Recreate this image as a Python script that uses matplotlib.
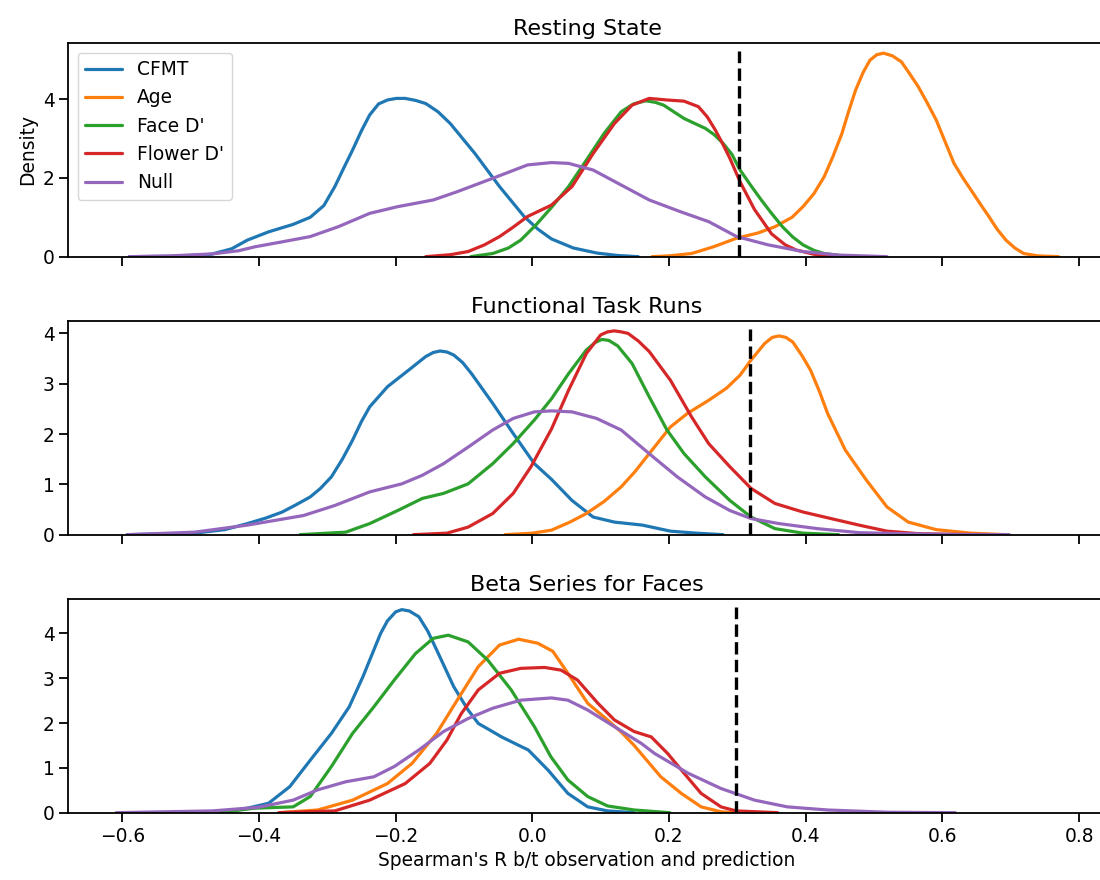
import numpy as np
import matplotlib.pyplot as plt

# ---- values (x = Spearman's R, y = density) ----

titles = ["Resting State", "Functional Task Runs", "Beta Series for Faces"]
labels = ["CFMT", "Age", "Face D'", "Flower D'", "Null"]
thresholds = [0.302, 0.318, 0.298]
ytops = [5.42, 4.24, 4.76]

# Resting State
rs_cfmt_x = [-0.59, -0.52, -0.47, -0.44, -0.417, -0.386, -0.35, -0.325, -0.305, -0.289, -0.276, -0.263,
             -0.25, -0.238, -0.225, -0.212, -0.199, -0.186, -0.171, -0.156, -0.138, -0.12, -0.102, -0.084,
             -0.066, -0.048, -0.03, -0.012, 0.008, 0.028, 0.06, 0.095, 0.125, 0.155]
rs_cfmt_y = [0.0, 0.01, 0.06, 0.2, 0.42, 0.63, 0.82, 1.0, 1.3, 1.78, 2.25, 2.71,
             3.2, 3.6, 3.88, 3.98, 4.02, 4.02, 3.97, 3.89, 3.68, 3.38, 3.0, 2.62,
             2.2, 1.78, 1.4, 1.02, 0.7, 0.45, 0.22, 0.09, 0.03, 0.0]
rs_age_x = [0.175, 0.2, 0.233, 0.265, 0.299, 0.33, 0.355, 0.38, 0.396, 0.412, 0.427, 0.44, 0.453,
            0.463, 0.473, 0.484, 0.494, 0.504, 0.514, 0.527, 0.54, 0.552, 0.565, 0.578, 0.591,
            0.604, 0.617, 0.63, 0.642, 0.655, 0.668, 0.68, 0.693, 0.706, 0.719, 0.74, 0.77]
rs_age_y = [0.0, 0.02, 0.08, 0.25, 0.47, 0.6, 0.76, 1.0, 1.27, 1.6, 2.03, 2.55, 3.13,
            3.7, 4.23, 4.68, 4.99, 5.13, 5.17, 5.1, 4.95, 4.65, 4.31, 3.9, 3.47,
            2.92, 2.37, 2.0, 1.69, 1.35, 1.02, 0.7, 0.42, 0.22, 0.08, 0.02, 0.0]
rs_face_x = [-0.09, -0.058, -0.035, -0.017, 0.005, 0.028, 0.053, 0.079, 0.105, 0.13, 0.148, 0.166,
             0.18, 0.192, 0.207, 0.222, 0.238, 0.253, 0.266, 0.279, 0.292, 0.304, 0.32, 0.335,
             0.35, 0.366, 0.381, 0.396, 0.412, 0.427, 0.463]
rs_face_y = [0.0, 0.08, 0.22, 0.42, 0.8, 1.25, 1.78, 2.45, 3.13, 3.68, 3.88, 3.96,
             3.92, 3.85, 3.68, 3.51, 3.38, 3.26, 3.1, 2.88, 2.6, 2.2, 1.8, 1.44,
             1.1, 0.76, 0.5, 0.3, 0.16, 0.08, 0.0]
rs_flower_x = [-0.156, -0.12, -0.094, -0.07, -0.048, -0.028, -0.007, 0.028, 0.058, 0.089, 0.12, 0.146,
               0.171, 0.197, 0.222, 0.243, 0.256, 0.268, 0.279, 0.289, 0.304, 0.325, 0.35, 0.37,
               0.386, 0.417, 0.437]
rs_flower_y = [0.0, 0.05, 0.13, 0.3, 0.51, 0.75, 1.02, 1.31, 1.78, 2.62, 3.38, 3.85,
               4.02, 3.98, 3.95, 3.81, 3.55, 3.21, 2.85, 2.5, 1.9, 1.2, 0.58, 0.3,
               0.17, 0.04, 0.0]
rs_null_x = [-0.59, -0.53, -0.468, -0.43, -0.406, -0.365, -0.325, -0.284, -0.238, -0.197, -0.145, -0.11,
             -0.058, -0.007, 0.028, 0.053, 0.089, 0.13, 0.171, 0.217, 0.258, 0.299, 0.345, 0.396,
             0.448, 0.519]
rs_null_y = [0.0, 0.02, 0.07, 0.15, 0.25, 0.38, 0.51, 0.76, 1.1, 1.27, 1.44, 1.65,
             1.99, 2.33, 2.39, 2.37, 2.2, 1.82, 1.44, 1.14, 0.89, 0.51, 0.3, 0.13,
             0.04, 0.0]

# Functional Task Runs
ft_cfmt_x = [-0.593, -0.494, -0.45, -0.417, -0.39, -0.366, -0.345, -0.325, -0.31, -0.294, -0.278, -0.263,
             -0.25, -0.238, -0.212, -0.181, -0.156, -0.145, -0.135, -0.125, -0.115, -0.102, -0.089, -0.058,
             -0.028, 0.003, 0.028, 0.058, 0.089, 0.12, 0.161, 0.202, 0.24, 0.279]
ft_cfmt_y = [0.0, 0.03, 0.1, 0.22, 0.33, 0.45, 0.6, 0.75, 0.92, 1.15, 1.5, 1.88,
             2.25, 2.54, 2.94, 3.27, 3.54, 3.62, 3.65, 3.63, 3.57, 3.42, 3.2, 2.61,
             2.01, 1.41, 1.1, 0.68, 0.35, 0.25, 0.19, 0.07, 0.03, 0.0]
ft_age_x = [-0.04, 0.0, 0.028, 0.055, 0.079, 0.105, 0.13, 0.15, 0.171, 0.202, 0.227, 0.258,
            0.284, 0.304, 0.32, 0.34, 0.351, 0.361, 0.371, 0.381, 0.395, 0.407, 0.42, 0.432, 0.458, 0.489,
            0.519, 0.55, 0.591, 0.642, 0.693]
ft_age_y = [0.0, 0.03, 0.09, 0.25, 0.42, 0.66, 0.95, 1.25, 1.61, 2.14, 2.41, 2.67,
            2.91, 3.17, 3.47, 3.8, 3.92, 3.95, 3.92, 3.83, 3.55, 3.27, 2.85, 2.41, 1.68, 1.08,
            0.55, 0.25, 0.1, 0.03, 0.0]
ft_face_x = [-0.34, -0.273, -0.238, -0.197, -0.161, -0.13, -0.094, -0.058, -0.028, 0.003, 0.028, 0.053,
             0.079, 0.092, 0.102, 0.112, 0.125, 0.146, 0.171, 0.197, 0.222, 0.253, 0.289, 0.32,
             0.355, 0.396, 0.448]
ft_face_y = [0.0, 0.05, 0.22, 0.48, 0.72, 0.82, 1.01, 1.41, 1.81, 2.28, 2.7, 3.2,
             3.67, 3.82, 3.88, 3.86, 3.75, 3.4, 2.74, 2.08, 1.61, 1.15, 0.68, 0.35,
             0.12, 0.03, 0.0]
ft_flower_x = [-0.174, -0.125, -0.094, -0.058, -0.028, -0.002, 0.028, 0.053, 0.079, 0.1, 0.11, 0.12,
               0.13, 0.14, 0.155, 0.171, 0.202, 0.233, 0.258, 0.289, 0.32, 0.355, 0.396, 0.437,
               0.478, 0.519, 0.565, 0.62, 0.693]
ft_flower_y = [0.0, 0.03, 0.15, 0.42, 0.82, 1.35, 2.1, 2.87, 3.6, 3.97, 4.03, 4.05,
               4.03, 4.0, 3.85, 3.64, 3.07, 2.34, 1.81, 1.35, 0.92, 0.62, 0.45, 0.32,
               0.19, 0.07, 0.02, 0.005, 0.0]
ft_null_x = [-0.593, -0.494, -0.417, -0.335, -0.289, -0.238, -0.191, -0.161, -0.13, -0.094, -0.058, -0.028,
             0.003, 0.028, 0.058, 0.094, 0.13, 0.171, 0.212, 0.253, 0.289, 0.32, 0.361, 0.417,
             0.478, 0.54, 0.62, 0.698]
ft_null_y = [0.0, 0.05, 0.19, 0.38, 0.58, 0.85, 1.01, 1.18, 1.41, 1.74, 2.08, 2.31,
             2.44, 2.46, 2.44, 2.31, 2.08, 1.61, 1.15, 0.75, 0.48, 0.32, 0.22, 0.12,
             0.04, 0.02, 0.005, 0.0]

# Beta Series for Faces
bs_cfmt_x = [-0.458, -0.417, -0.386, -0.355, -0.325, -0.294, -0.268, -0.248, -0.222, -0.212, -0.2, -0.191,
             -0.18, -0.166, -0.153, -0.14, -0.115, -0.094, -0.079, -0.063, -0.045, -0.021, -0.006, 0.023,
             0.052, 0.081, 0.11, 0.149]
bs_cfmt_y = [0.0, 0.1, 0.21, 0.58, 1.17, 1.77, 2.36, 3.03, 4.0, 4.28, 4.48, 4.53,
             4.5, 4.37, 4.05, 3.63, 2.81, 2.29, 1.99, 1.85, 1.69, 1.51, 1.4, 0.95,
             0.43, 0.13, 0.04, 0.0]
bs_age_x = [-0.371, -0.314, -0.263, -0.212, -0.176, -0.14, -0.11, -0.079, -0.048, -0.02, 0.008, 0.03,
            0.052, 0.081, 0.11, 0.13, 0.149, 0.159, 0.188, 0.218, 0.247, 0.276, 0.296]
bs_age_y = [0.0, 0.06, 0.28, 0.65, 1.1, 1.77, 2.51, 3.26, 3.74, 3.87, 3.78, 3.6,
            3.11, 2.44, 2.07, 1.8, 1.5, 1.32, 0.8, 0.43, 0.13, 0.02, 0.0]
bs_face_x = [-0.458, -0.407, -0.35, -0.325, -0.294, -0.263, -0.232, -0.202, -0.171, -0.145, -0.123, -0.094,
             -0.065, -0.031, 0.003, 0.027, 0.052, 0.081, 0.11, 0.149, 0.201]
bs_face_y = [0.0, 0.1, 0.13, 0.36, 1.03, 1.77, 2.36, 2.96, 3.55, 3.89, 3.96, 3.81,
             3.4, 2.74, 1.92, 1.25, 0.73, 0.36, 0.15, 0.06, 0.0]
bs_flower_x = [-0.371, -0.289, -0.238, -0.186, -0.15, -0.125, -0.104, -0.079, -0.048, -0.017, 0.018, 0.042,
               0.066, 0.096, 0.12, 0.149, 0.174, 0.198, 0.222, 0.247, 0.276, 0.298, 0.359]
bs_flower_y = [0.0, 0.04, 0.28, 0.65, 1.1, 1.62, 2.21, 2.74, 3.11, 3.22, 3.24, 3.18,
               2.96, 2.44, 2.07, 1.81, 1.69, 1.32, 0.88, 0.43, 0.13, 0.04, 0.0]
bs_null_x = [-0.609, -0.468, -0.401, -0.35, -0.314, -0.273, -0.232, -0.202, -0.166, -0.13, -0.094, -0.058,
             -0.017, 0.028, 0.052, 0.081, 0.12, 0.159, 0.179, 0.228, 0.276, 0.325, 0.373, 0.432,
             0.52, 0.619]
bs_null_y = [0.0, 0.04, 0.12, 0.28, 0.51, 0.69, 0.8, 1.03, 1.4, 1.81, 2.1, 2.33,
             2.51, 2.56, 2.51, 2.29, 1.92, 1.55, 1.32, 0.88, 0.54, 0.28, 0.13, 0.06,
             0.01, 0.0]

panels = [
    [(rs_cfmt_x, rs_cfmt_y), (rs_age_x, rs_age_y), (rs_face_x, rs_face_y),
     (rs_flower_x, rs_flower_y), (rs_null_x, rs_null_y)],
    [(ft_cfmt_x, ft_cfmt_y), (ft_age_x, ft_age_y), (ft_face_x, ft_face_y),
     (ft_flower_x, ft_flower_y), (ft_null_x, ft_null_y)],
    [(bs_cfmt_x, bs_cfmt_y), (bs_age_x, bs_age_y), (bs_face_x, bs_face_y),
     (bs_flower_x, bs_flower_y), (bs_null_x, bs_null_y)],
]
colors = ["tab:blue", "tab:orange", "tab:green", "tab:red", "tab:purple"]

#--------------------------------------------------------------------

plt.rcParams['axes.linewidth'] = 1.3
plt.rcParams['xtick.major.size'] = 6.5
plt.rcParams['ytick.major.size'] = 6.5
plt.rcParams['xtick.major.width'] = 1.3
plt.rcParams['ytick.major.width'] = 1.3
plt.rcParams['xtick.labelsize'] = 13.4
plt.rcParams['ytick.labelsize'] = 13.4

fig, axes = plt.subplots(3, 1, figsize=(11, 8.8), dpi=100, sharex=True)
fig.subplots_adjust(left=0.0621, right=1.0052, top=0.9508, bottom=0.0765, hspace=0.303)

for i, ax in enumerate(axes):
    for (xs, ys), lab, c in zip(panels[i], labels, colors):
        ax.plot(xs, ys, color=c, lw=2.3, label=lab,
                solid_joinstyle='round', solid_capstyle='round')
    ax.axvline(thresholds[i], ymin=0, ymax=0.965, color='black', ls='--', lw=2.4)
    ax.set_title(titles[i], fontsize=16)
    ax.set_ylim(0, ytops[i])

axes[0].set_yticks([0, 2, 4])
axes[1].set_yticks([0, 1, 2, 3, 4])
axes[2].set_yticks([0, 1, 2, 3, 4])
axes[2].set_xlim(-0.679, 0.839)
axes[2].set_xticks(np.arange(-0.6, 0.81, 0.2))

axes[0].set_ylabel("Density", fontsize=13.4)
axes[2].set_xlabel("Spearman's R b/t observation and prediction", fontsize=13.4)
axes[0].legend(loc='upper left', fontsize=13.4)

fig.savefig("out.png", dpi=100)
